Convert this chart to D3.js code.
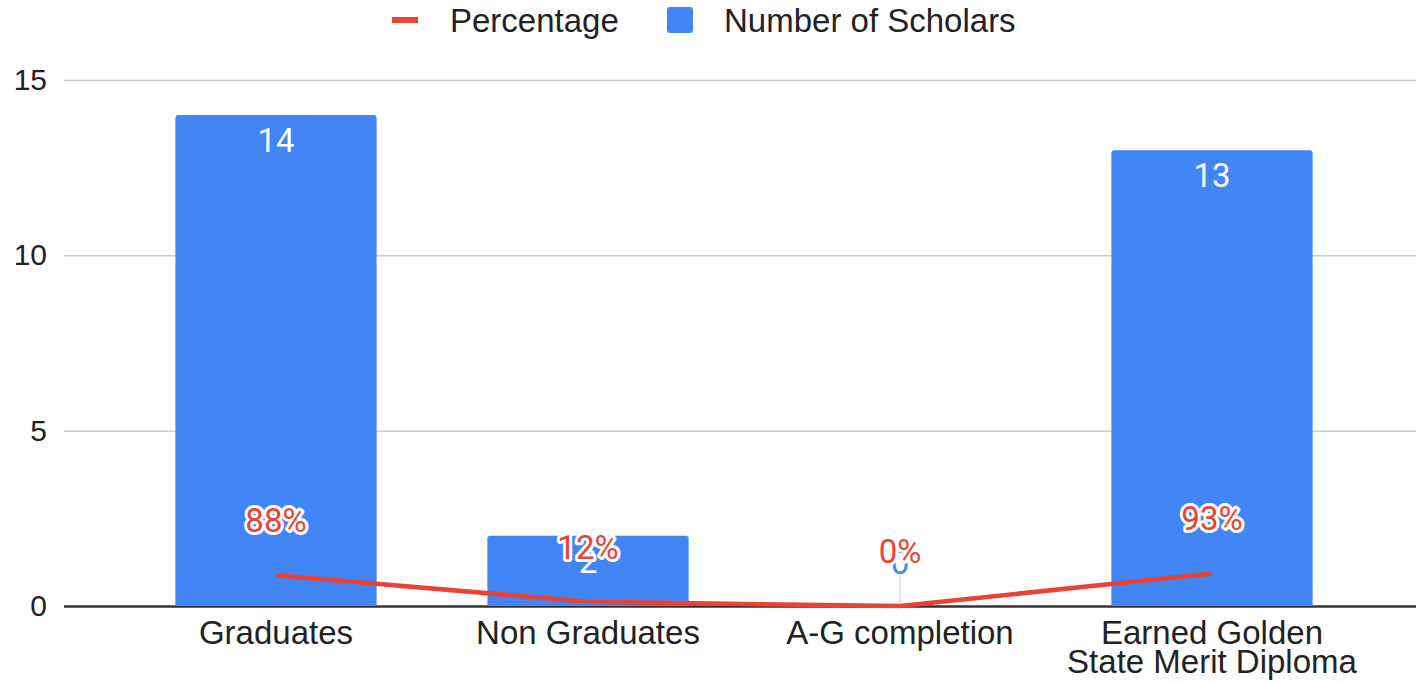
<!DOCTYPE html>
<html>
<head>
<meta charset="utf-8">
<script src="https://cdn.jsdelivr.net/npm/d3@7"></script>
<style>
  body { margin: 0; background: #fff; }
  svg { display: block; font-family: "Liberation Sans", Arial, sans-serif; }
</style>
</head>
<body>
<svg id="chart"></svg>
<script>
const categories = ["Graduates", "Non Graduates", "A-G completion", "Earned Golden State Merit Diploma"];
const categoryLines = [["Graduates"], ["Non Graduates"], ["A-G completion"], ["Earned Golden", "State Merit Diploma"]];
const scholars = [14, 2, 0, 13];
const percentage = [0.88, 0.12, 0, 0.93];
const percentLabels = ["88%", "12%", "0%", "93%"];
const yTicks = [0, 5, 10, 15];

const width = 1416, height = 682;
const blue = "#4285f4", red = "#ea4335";

let svg = d3.select("#chart").attr("width", width).attr("height", height);

let x = d3.scaleBand().domain(categories).range([120, 1368]).paddingInner(0.355).paddingOuter(0.1775);
let y = d3.scaleLinear().domain([0, 15]).range([606, 80]);

// gridlines
let yAxis = d3.axisLeft(y).tickValues(yTicks).tickSize(0).tickPadding(17);
let gy = svg.append("g").attr("transform", "translate(64,0)").call(yAxis);
gy.select(".domain").remove();
gy.selectAll("text").attr("font-size", 30).attr("fill", "#222").attr("font-family", "Liberation Sans, Arial, sans-serif");
gy.selectAll(".tick").append("line")
  .attr("x1", 0).attr("x2", width - 64)
  .attr("stroke", d => d === 0 ? "#333" : "#ccc")
  .attr("stroke-width", d => d === 0 ? 2.5 : 1.5);

// bars
svg.append("g").selectAll("path")
  .data(scholars)
  .join("path")
  .attr("fill", blue)
  .attr("d", (d, i) => {
    let x0 = x(categories[i]), w = x.bandwidth(), y0 = y(d), y1 = y(0), r = 3;
    if (d === 0) return "";
    return `M${x0},${y1}V${y0 + r}Q${x0},${y0} ${x0 + r},${y0}H${x0 + w - r}Q${x0 + w},${y0} ${x0 + w},${y0 + r}V${y1}Z`;
  });

// stem for zero-height bar label
svg.append("g").selectAll("line")
  .data(scholars.filter(d => d === 0))
  .join("line")
  .attr("x1", (d) => x(categories[scholars.indexOf(d)]) + x.bandwidth() / 2)
  .attr("x2", (d) => x(categories[scholars.indexOf(d)]) + x.bandwidth() / 2)
  .attr("y1", y(0) - 31).attr("y2", y(0))
  .attr("stroke", "#ddd").attr("stroke-width", 1.5);

// bar labels
svg.append("g").selectAll("text")
  .data(scholars)
  .join("text")
  .attr("x", (d, i) => x(categories[i]) + x.bandwidth() / 2)
  .attr("y", d => d === 0 ? y(0) - 32 : y(d) + 37)
  .attr("text-anchor", "middle")
  .attr("font-family", "Roboto, sans-serif")
  .attr("font-size", 33)
  .attr("fill", d => d === 0 ? blue : "#fff")
  .text(d => d);

// percentage line
let line = d3.line()
  .x((d, i) => x(categories[i]) + x.bandwidth() / 2)
  .y(d => y(d));
svg.append("path")
  .datum(percentage)
  .attr("fill", "none")
  .attr("stroke", red)
  .attr("stroke-width", 4.5)
  .attr("d", line);

// percentage labels with white halo
svg.append("g").selectAll("text")
  .data(percentage)
  .join("text")
  .attr("x", (d, i) => x(categories[i]) + x.bandwidth() / 2)
  .attr("y", d => y(d) - 43)
  .attr("text-anchor", "middle")
  .attr("font-family", "Roboto, sans-serif")
  .attr("font-size", 33)
  .attr("fill", red)
  .attr("stroke", "#fff")
  .attr("stroke-width", 6)
  .attr("stroke-linejoin", "round")
  .attr("paint-order", "stroke")
  .text((d, i) => percentLabels[i]);

// x labels
let xl = svg.append("g").selectAll("text")
  .data(categories)
  .join("text")
  .attr("x", d => x(d) + x.bandwidth() / 2)
  .attr("y", 644)
  .attr("text-anchor", "middle")
  .attr("font-size", 33)
  .attr("fill", "#222");
xl.selectAll("tspan")
  .data((d, i) => categoryLines[i])
  .join("tspan")
  .attr("x", function () { return this.parentNode.getAttribute("x"); })
  .attr("dy", (d, j) => j === 0 ? 0 : 29)
  .text(d => d);

// legend
let legend = svg.append("g");
legend.append("rect").attr("x", 392).attr("y", 17).attr("width", 26).attr("height", 6).attr("fill", red);
legend.append("text").attr("x", 450).attr("y", 32).attr("font-size", 33).attr("fill", "#222").text("Percentage");
legend.append("rect").attr("x", 667).attr("y", 7).attr("width", 26).attr("height", 26).attr("rx", 3).attr("fill", blue);
legend.append("text").attr("x", 724).attr("y", 32).attr("font-size", 33).attr("fill", "#222").text("Number of Scholars");
</script>
</body>
</html>
